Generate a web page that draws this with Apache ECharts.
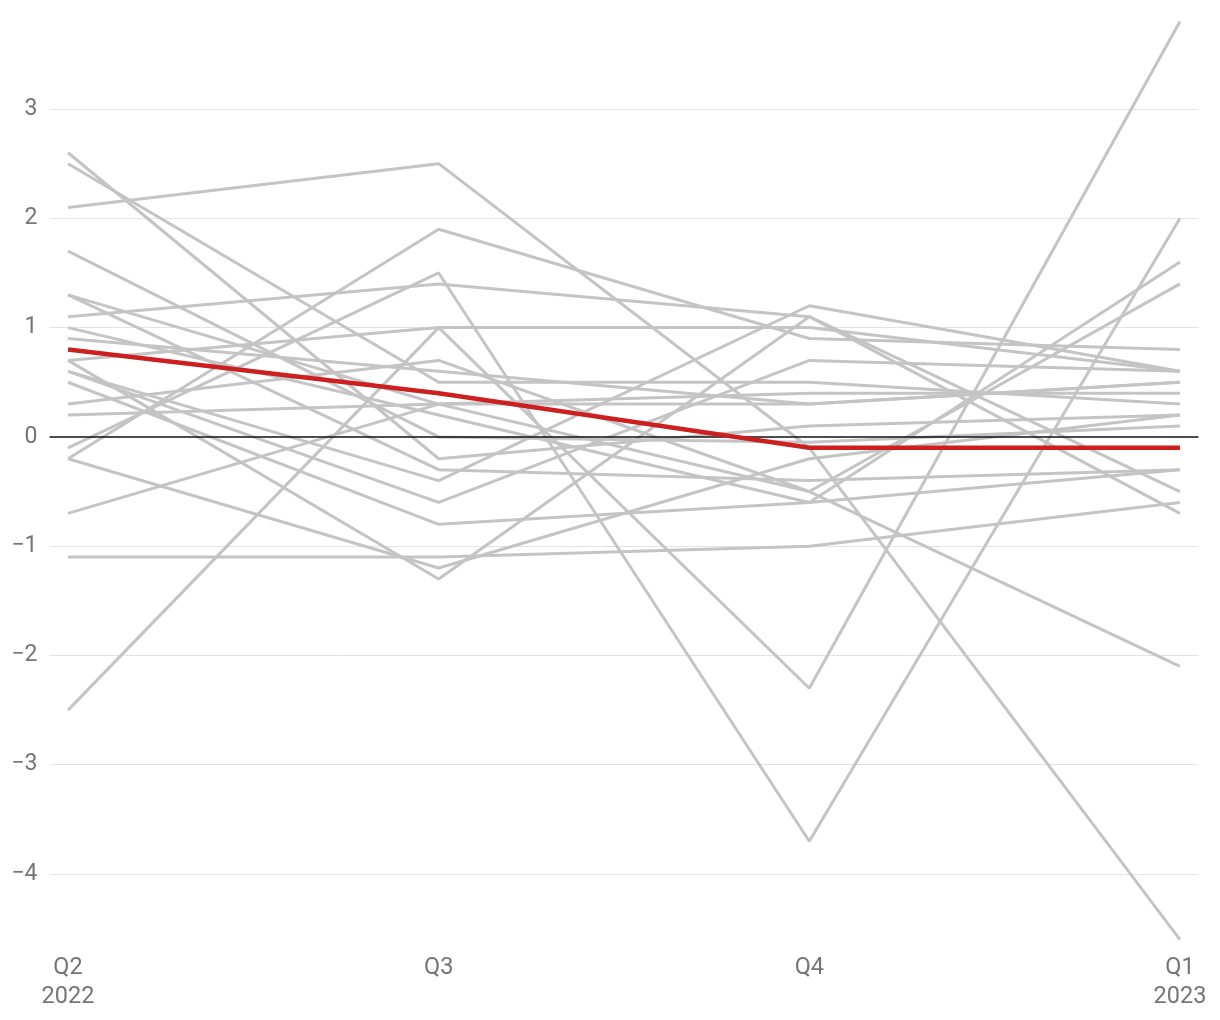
<!DOCTYPE html>
<html><head><meta charset="utf-8">
<script src="https://cdn.jsdelivr.net/npm/echarts@6/dist/echarts.min.js"></script>
<style>html,body{margin:0;padding:0;background:#fff}#c{width:1220px;height:1020px}</style>
</head><body><div id="c"></div>
<script>
// Category labels (x positions 0..3)
const quarters = ['Q2\n2022', 'Q3', 'Q4', 'Q1\n2023'];
// Y tick labels shown
const yTicks = [-4, -3, -2, -1, 0, 1, 2, 3];

// Highlighted series
const highlight = [0.8, 0.4, -0.1, -0.1];

// Background series (values at Q2, Q3, Q4, Q1)
const g01 = [2.1, 2.5, -0.1, -4.6];
const g02 = [2.6, -0.2, 0.1, 0.2];
const g03 = [2.5, 0.5, 0.5, 0.3];
const g04 = [1.7, 0.0, -0.05, 0.1];
const g05 = [1.3, -0.3, -0.4, -0.3];
const g06 = [1.3, 0.3, -0.5, -2.1];
const g07 = [1.1, 1.4, 1.1, -0.5];
const g08 = [1.0, 0.2, -0.6, 1.6];
const g09 = [0.9, 0.6, 0.3, 0.5];
const g10 = [0.7, 1.0, 1.0, 0.6];
const g11 = [0.7, -1.3, 1.1, -0.7];
const g12 = [0.6, -0.4, 1.2, 0.6];
const g13 = [0.6, -0.6, 0.7, 0.6];
const g14 = [0.5, -0.8, -0.6, -0.3];
const g15 = [0.3, 0.7, -0.5, 1.4];
const g16 = [0.2, 0.3, 0.4, 0.4];
const g17 = [-0.1, 1.5, -3.7, 2.0];
const g18 = [-0.2, 1.9, 0.9, 0.8];
const g19 = [-0.2, -1.2, -0.2, 0.2];
const g20 = [-0.7, 0.3, 0.3, 0.5];
const g21 = [-1.1, -1.1, -1.0, -0.6];
const g22 = [-2.5, 1.0, -2.3, 3.8];

const grayLines = [g01,g02,g03,g04,g05,g06,g07,g08,g09,g10,g11,g12,g13,g14,g15,g16,g17,g18,g19,g20,g21,g22];

const Y_MIN = -4.6, Y_MAX = 3.8, Y_STEP = 0.2;
const nY = Math.round((Y_MAX - Y_MIN) / Y_STEP) + 1;
const gridColors = [];
for (let i = 0; i < nY; i++) {
  const v = Math.round((Y_MIN + i * Y_STEP) * 10) / 10;
  gridColors.push(yTicks.indexOf(v) >= 0 && v !== 0 ? '#e3e3e3' : 'rgba(0,0,0,0)');
}

const toPts = arr => arr.map((v, i) => [i, v]);
const series = grayLines.map(arr => ({
  type: 'line', data: toPts(arr), symbol: 'none', silent: true,
  lineStyle: { color: '#c4c4c4', width: 3 }, z: 2
}));
series.push({
  type: 'line', data: toPts(highlight), symbol: 'none', silent: true,
  lineStyle: { color: '#cc1f1f', width: 4.6 }, z: 5,
  markLine: {
    silent: true, symbol: 'none', label: { show: false },
    lineStyle: { color: '#111', width: 1.5, type: 'solid' },
    data: [{ yAxis: 0 }], z: 4
  }
});

const chart = echarts.init(document.getElementById('c'));
chart.setOption({
  animation: false,
  backgroundColor: '#fff',
  grid: { left: 49.5, right: 21.5, top: 21.6, bottom: 80.4, containLabel: false },
  xAxis: {
    type: 'value', min: -0.05, max: 3.05, interval: 0.05,
    axisLine: { show: false }, axisTick: { show: false }, splitLine: { show: false },
    axisLabel: {
      color: '#757575', fontFamily: 'Roboto', fontSize: 23.5, lineHeight: 29, margin: 14,
      formatter: v => {
        const r = Math.round(v);
        return Math.abs(v - r) < 1e-6 && r >= 0 && r < quarters.length ? quarters[r] : '';
      }
    }
  },
  yAxis: {
    type: 'value', min: Y_MIN, max: Y_MAX, interval: Y_STEP,
    axisLine: { show: false }, axisTick: { show: false },
    splitLine: { show: true, lineStyle: { color: gridColors, width: 1 } },
    axisLabel: {
      color: '#757575', fontFamily: 'Roboto', fontSize: 23, margin: 12,
      formatter: v => {
        const r = Math.round(v * 10) / 10;
        if (yTicks.indexOf(r) < 0) return '';
        return r < 0 ? '\u2212' + Math.abs(r) : String(r);
      }
    }
  },
  series: series
});
</script></body></html>
